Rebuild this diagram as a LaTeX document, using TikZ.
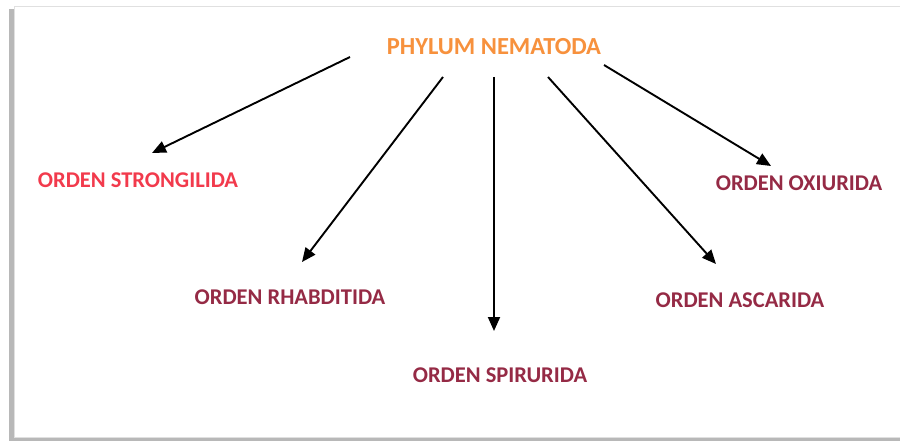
\documentclass[tikz,border=0pt]{standalone}
\usepackage{fontspec}
\setmainfont{Carlito}
\usepackage{xcolor}
\usetikzlibrary{positioning,arrows.meta}
\definecolor{rootorange}{HTML}{F7913D}
\definecolor{ordred}{HTML}{F23A4C}
\definecolor{ordmaroon}{HTML}{952A45}

\begin{document}
\begin{tikzpicture}[
  x=1pt,y=-1pt,
  root/.style={font=\bfseries\fontsize{24.5}{26}\selectfont,text=rootorange,inner sep=1pt},
  ord/.style={font=\bfseries\fontsize{22.5}{24}\selectfont,text=ordmaroon,inner sep=1pt},
  ar/.style={-{Triangle[length=14pt,width=12pt]},line width=1.9pt}
]
\useasboundingbox (0,0) rectangle (900,441);
%% ---- frame with its shadow ----------------------------------------------
\fill[black!28] (9,9) rectangle (903,441);
\fill[white,draw=black!12,line width=0.8pt] (14,6) rectangle (906,437);

%% ---- phylum and its orders ----------------------------------------------
\node[root]                 (phy)  at (494,47)  {PHYLUM NEMATODA};
\node[ord,text=ordred]      (stro) at (138,180) {ORDEN STRONGILIDA};
\node[ord]                  (rhab) at (290,297) {ORDEN RHABDITIDA};
\node[ord]                  (spir) at (500,375) {ORDEN SPIRURIDA};
\node[ord]                  (asca) at (740,300) {ORDEN ASCARIDA};
\node[ord]                  (oxiu) at (799,183) {ORDEN OXIURIDA};

%% start and tip of each arrow
\coordinate (s1) at (350,57);  \coordinate (e1) at ([shift={(14,-27)}]stro.center);
\coordinate (s2) at (443,77);  \coordinate (e2) at ([shift={(12,-35)}]rhab.center);
\coordinate (s3) at (494,77);  \coordinate (e3) at ([shift={(-6,-44)}]spir.center);
\coordinate (s4) at (548,77);  \coordinate (e4) at ([shift={(-24,-36)}]asca.center);
\coordinate (s5) at (604,65);  \coordinate (e5) at ([shift={(-28,-17)}]oxiu.center);
\foreach \i in {1,...,5} \draw[ar] (s\i) -- (e\i);
\end{tikzpicture}
\end{document}
